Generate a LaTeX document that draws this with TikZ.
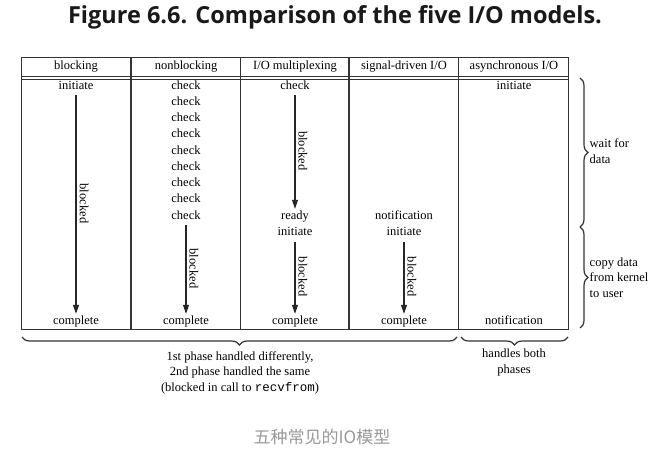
\documentclass[tikz,border=0pt]{standalone}
\usepackage{fontspec}
\setmainfont{Liberation Serif}
\newfontfamily\titlefont{Open Sans}
\newfontfamily\cjkfont{Noto Sans CJK SC}
\newfontfamily\recvfont{Liberation Mono}
\usetikzlibrary{arrows.meta,decorations.pathreplacing}
\begin{document}
\begin{tikzpicture}[x=1pt,y=-1pt,
  txt/.style={inner sep=0.5pt, font=\fontsize{12.5}{15.5}\selectfont},
  word/.style={txt, text height=8.5pt, text depth=2.5pt},
  arr/.style={draw=black!85, line width=1.1pt, -{Triangle[length=9pt,width=6pt]}, shorten <=3pt, shorten >=1pt},
  lbl/.style={txt, rotate=-90, anchor=south, inner sep=3pt},
  gridline/.style={draw=black!80, line width=1.2pt},
  brc/.style={draw=black!80, line width=1.2pt, decorate, decoration={brace, amplitude=8pt}},
  note/.style={txt, align=left, anchor=west},
]
\fill[white] (0,0) rectangle (666,452);
\path[use as bounding box] (0,0) rectangle (666,452);

% title
\node[font=\titlefont\bfseries\fontsize{23.5}{26}\selectfont, text=black!90] (title) at (335,17) {Figure 6.6. Comparison of the five I/O models.};

% table
\draw[gridline] (21.5,57.5) rectangle (568.5,329.5);
\foreach \x in {131,240.5,349,458.5} \draw[gridline] (\x,57.5) -- (\x,329.5);
\draw[gridline] (21.5,76.5) -- (568.5,76.5);
\draw[gridline] (21.5,79.5) -- (568.5,79.5);

% headers
\node[word] (h1) at (76,66.5) {blocking};
\node[word] (h2) at (186,66.5) {nonblocking};
\node[word] (h3) at (295,66.5) {I/O multiplexing};
\node[word] (h4) at (404,66.5) {signal-driven I/O};
\node[word] (h5) at (514,66.5) {asynchronous I/O};

% blocking
\node[word] (b1) at (76,86) {initiate};
\node[word] (b2) at (76,321) {complete};
\draw[arr, line width=1.6pt] (b1) -- node[lbl] {blocked} (b2);

% nonblocking
\foreach \i in {0,...,8} \node[word] (c\i) at (186,86+16.25*\i) {check};
\node[word] (n2) at (186,321) {complete};
\draw[arr] (c8) -- node[lbl] {blocked} (n2);

% I/O multiplexing
\node[word] (m1) at (295,86) {check};
\node[word] (m2) at (295,216) {ready};
\node[word] (m3) at (295,232.5) {initiate};
\node[word] (m4) at (295,321) {complete};
\draw[arr] (m1) -- node[lbl] {blocked} (m2);
\draw[arr] (m3) -- node[lbl] {blocked} (m4);

% signal-driven
\node[word] (s1) at (404,216) {notification};
\node[word] (s2) at (404,232.5) {initiate};
\node[word] (s3) at (404,321) {complete};
\draw[arr] (s2) -- node[lbl] {blocked} (s3);

% asynchronous
\node[word] (a1) at (514,86) {initiate};
\node[word] (a2) at (514,321) {notification};

% right braces
\coordinate (r1) at (580,78);
\coordinate (r2) at (580,227);
\coordinate (r3) at (580,328);
\draw[brc] (r1) -- (r2);
\draw[brc] (r2) -- (r3);
\node[note] (wait) at (589,151) {wait for\\data};
\node[note] (copy) at (589,277.5) {copy data\\from kernel\\to user};

% bottom braces
\coordinate (p1) at (22,337);
\coordinate (p2) at (457,337);
\coordinate (p3) at (461,337);
\coordinate (p4) at (568,337);
\draw[brc] (p2) -- (p1);
\draw[brc] (p4) -- (p3);
\node[txt, align=center] (first) at (240,372.5) {1st phase handled differently,\\2nd phase handled the same\\(blocked in call to {\recvfont recvfrom})};
\node[txt, align=center] (both) at (514,362.5) {handles both\\phases};

% caption
\node[font=\cjkfont\fontsize{17}{19}\selectfont, text=black!40] (cap) at (322,437) {五种常见的IO模型};
\end{tikzpicture}
\end{document}
